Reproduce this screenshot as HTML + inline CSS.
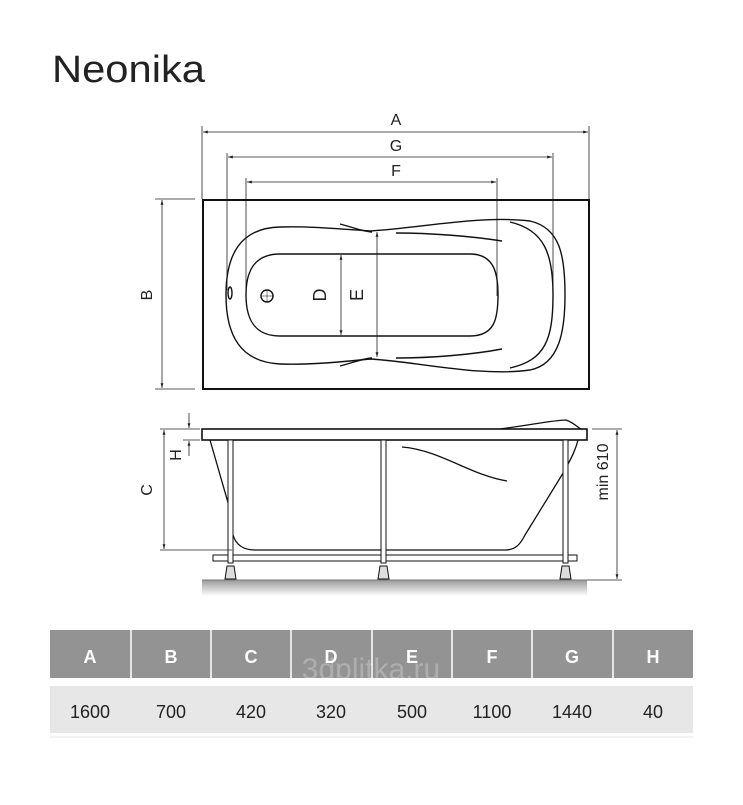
<!DOCTYPE html>
<html><head><meta charset="utf-8"><style>
body{margin:0;background:#fff;width:743px;height:800px;overflow:hidden;font-family:"Liberation Sans",sans-serif}
</style></head><body>
<svg width="743" height="800" viewBox="0 0 743 800" xmlns="http://www.w3.org/2000/svg" font-family="Liberation Sans, sans-serif">
<defs>
<marker id="ar" viewBox="0 0 10 10" refX="10" refY="5" markerWidth="6" markerHeight="6" orient="auto-start-reverse"><path d="M0,2 L10,5 L0,8z" fill="#222"/></marker>
<linearGradient id="fl" x1="0" y1="0" x2="0" y2="1"><stop offset="0" stop-color="#9a9a9a"/><stop offset="1" stop-color="#fff"/></linearGradient>
</defs>
<text x="52" y="82" font-size="38" fill="#222" textLength="153" lengthAdjust="spacingAndGlyphs">Neonika</text>
<g stroke="#222" stroke-width="0.8" fill="none">
<line x1="202" y1="126" x2="202" y2="199"/><line x1="589" y1="126" x2="589" y2="199"/>
<line x1="203" y1="132" x2="588" y2="132" marker-start="url(#ar)" marker-end="url(#ar)"/>
<line x1="227" y1="153" x2="227" y2="290"/><line x1="553" y1="153" x2="553" y2="290"/>
<line x1="228" y1="157" x2="552" y2="157" marker-start="url(#ar)" marker-end="url(#ar)"/>
<line x1="246" y1="178" x2="246" y2="296"/><line x1="497" y1="178" x2="497" y2="296"/>
<line x1="247" y1="182" x2="496" y2="182" marker-start="url(#ar)" marker-end="url(#ar)"/>
<line x1="155" y1="199" x2="195" y2="199"/><line x1="155" y1="389" x2="195" y2="389"/>
<line x1="162" y1="200" x2="162" y2="388" marker-start="url(#ar)" marker-end="url(#ar)"/>
<line x1="341" y1="255" x2="341" y2="335" marker-start="url(#ar)" marker-end="url(#ar)"/>
<line x1="377" y1="232" x2="377" y2="357" marker-start="url(#ar)" marker-end="url(#ar)"/>
</g>
<g font-size="16" fill="#222" text-anchor="middle">
<text x="396" y="125">A</text><text x="396" y="151">G</text><text x="396" y="176">F</text>
<text transform="translate(152,295) rotate(-90)">B</text>
<text transform="translate(326,295) rotate(-90)" font-size="18">D</text>
<text transform="translate(363,295) rotate(-90)" font-size="18">E</text>
</g>
<rect x="203" y="200" width="386" height="189" fill="none" stroke="#111" stroke-width="2"/>
<g stroke="#111" stroke-width="1.4" fill="none">
<path d="M370,231 C340,229 310,226 280,227 C240,228 226,255 226,295 C226,335 240,362 280,364 C310,365 340,362 370,359 C420,362 480,377 530,370 C560,364 565,330 565,295 C565,255 560,228 530,221 C480,215 420,228 370,231Z"/>
<path d="M340,224 C355,228 365,232 372,232"/><path d="M340,366 C355,362 365,358 372,358"/>
<path d="M396,233 C430,233 470,236 502,241"/><path d="M396,358 C430,358 470,355 502,349"/>
<path d="M510,222 C545,230 553,255 553,295 C553,340 545,360 510,368"/>
<path d="M280,254 L470,254 C495,254 498,275 498,295 C498,318 495,336 470,336 L280,336 C255,336 246,320 246,295 C246,270 255,254 280,254Z"/>
<circle cx="267" cy="296" r="6"/><line x1="261" y1="296" x2="273" y2="296" stroke-width="0.5"/><line x1="267" y1="290" x2="267" y2="302" stroke-width="0.5"/>
<ellipse cx="230" cy="293" rx="2" ry="6"/>
</g>
<rect x="202" y="580" width="385" height="16" fill="url(#fl)"/>
<line x1="202" y1="580" x2="587" y2="580" stroke="#777" stroke-width="1"/>
<g stroke="#111" stroke-width="1.3" fill="none">
<path d="M210,440 L233,520"/>
<path d="M233,535 C236,545 243,550 255,550 L505,550 C515,550 520,545 525,535 L565,470 C570,460 575,452 578,440"/>
<path d="M500,429 C530,425 555,420 566,420 C575,423 580,430 582,429"/>
<path d="M402,447 C440,450 470,475 507,481"/>
<rect x="202" y="429" width="385" height="11" stroke-width="1.6"/>
<rect x="213" y="555" width="364" height="6" stroke-width="1"/>
<rect x="228" y="440" width="5" height="123" fill="#fff" stroke-width="1"/>
<rect x="381" y="440" width="5" height="123" fill="#fff" stroke-width="1"/>
<rect x="563" y="440" width="5" height="123" fill="#fff" stroke-width="1"/>
<path d="M227,566 L234,566 L236,579 L225,579Z" fill="#ddd" stroke-width="1"/>
<path d="M380,566 L387,566 L389,579 L378,579Z" fill="#ddd" stroke-width="1"/>
<path d="M562,566 L569,566 L571,579 L560,579Z" fill="#ddd" stroke-width="1"/>
</g>
<g stroke="#222" stroke-width="0.8" fill="none">
<line x1="160" y1="429" x2="200" y2="429"/><line x1="160" y1="550" x2="232" y2="550"/>
<line x1="164" y1="430" x2="164" y2="549" marker-start="url(#ar)" marker-end="url(#ar)"/>
<line x1="189" y1="413" x2="189" y2="428" marker-end="url(#ar)"/>
<line x1="189" y1="456" x2="189" y2="441" marker-end="url(#ar)"/>
<line x1="183" y1="440" x2="200" y2="440"/>
<line x1="592" y1="429" x2="622" y2="429"/><line x1="587" y1="580" x2="622" y2="580"/>
<line x1="617" y1="430" x2="617" y2="579" marker-start="url(#ar)" marker-end="url(#ar)"/>
</g>
<g font-size="16" fill="#222" text-anchor="middle">
<text transform="translate(152,490) rotate(-90)">C</text>
<text transform="translate(181,455) rotate(-90)">H</text>
<text transform="translate(608,472) rotate(-90)">min 610</text>
</g>
<g>
<rect x="50" y="630" width="643" height="48" fill="#939393"/>
<rect x="50" y="686" width="643" height="47" fill="#e7e7e8"/>
<g stroke="#fff" stroke-width="1.5">
<line x1="131" y1="630" x2="131" y2="678"/><line x1="211" y1="630" x2="211" y2="678"/><line x1="291" y1="630" x2="291" y2="678"/><line x1="372" y1="630" x2="372" y2="678"/><line x1="452" y1="630" x2="452" y2="678"/><line x1="532" y1="630" x2="532" y2="678"/><line x1="613" y1="630" x2="613" y2="678"/>
</g>
<line x1="50" y1="737" x2="693" y2="737" stroke="#e7e7e8" stroke-width="1"/>
<g font-size="18" font-weight="bold" fill="#fff" text-anchor="middle">
<text x="90" y="663">A</text><text x="171" y="663">B</text><text x="251" y="663">C</text><text x="331" y="663">D</text><text x="412" y="663">E</text><text x="492" y="663">F</text><text x="572" y="663">G</text><text x="653" y="663">H</text>
</g>
<text x="371" y="679" font-size="30" fill="#ffffff" fill-opacity="0.25" text-anchor="middle">3dplitka.ru</text>
<g font-size="18" fill="#222" text-anchor="middle">
<text x="90" y="718">1600</text><text x="171" y="718">700</text><text x="251" y="718">420</text><text x="331" y="718">320</text><text x="412" y="718">500</text><text x="492" y="718">1100</text><text x="572" y="718">1440</text><text x="653" y="718">40</text>
</g>
</g>
</svg>
</body></html>
